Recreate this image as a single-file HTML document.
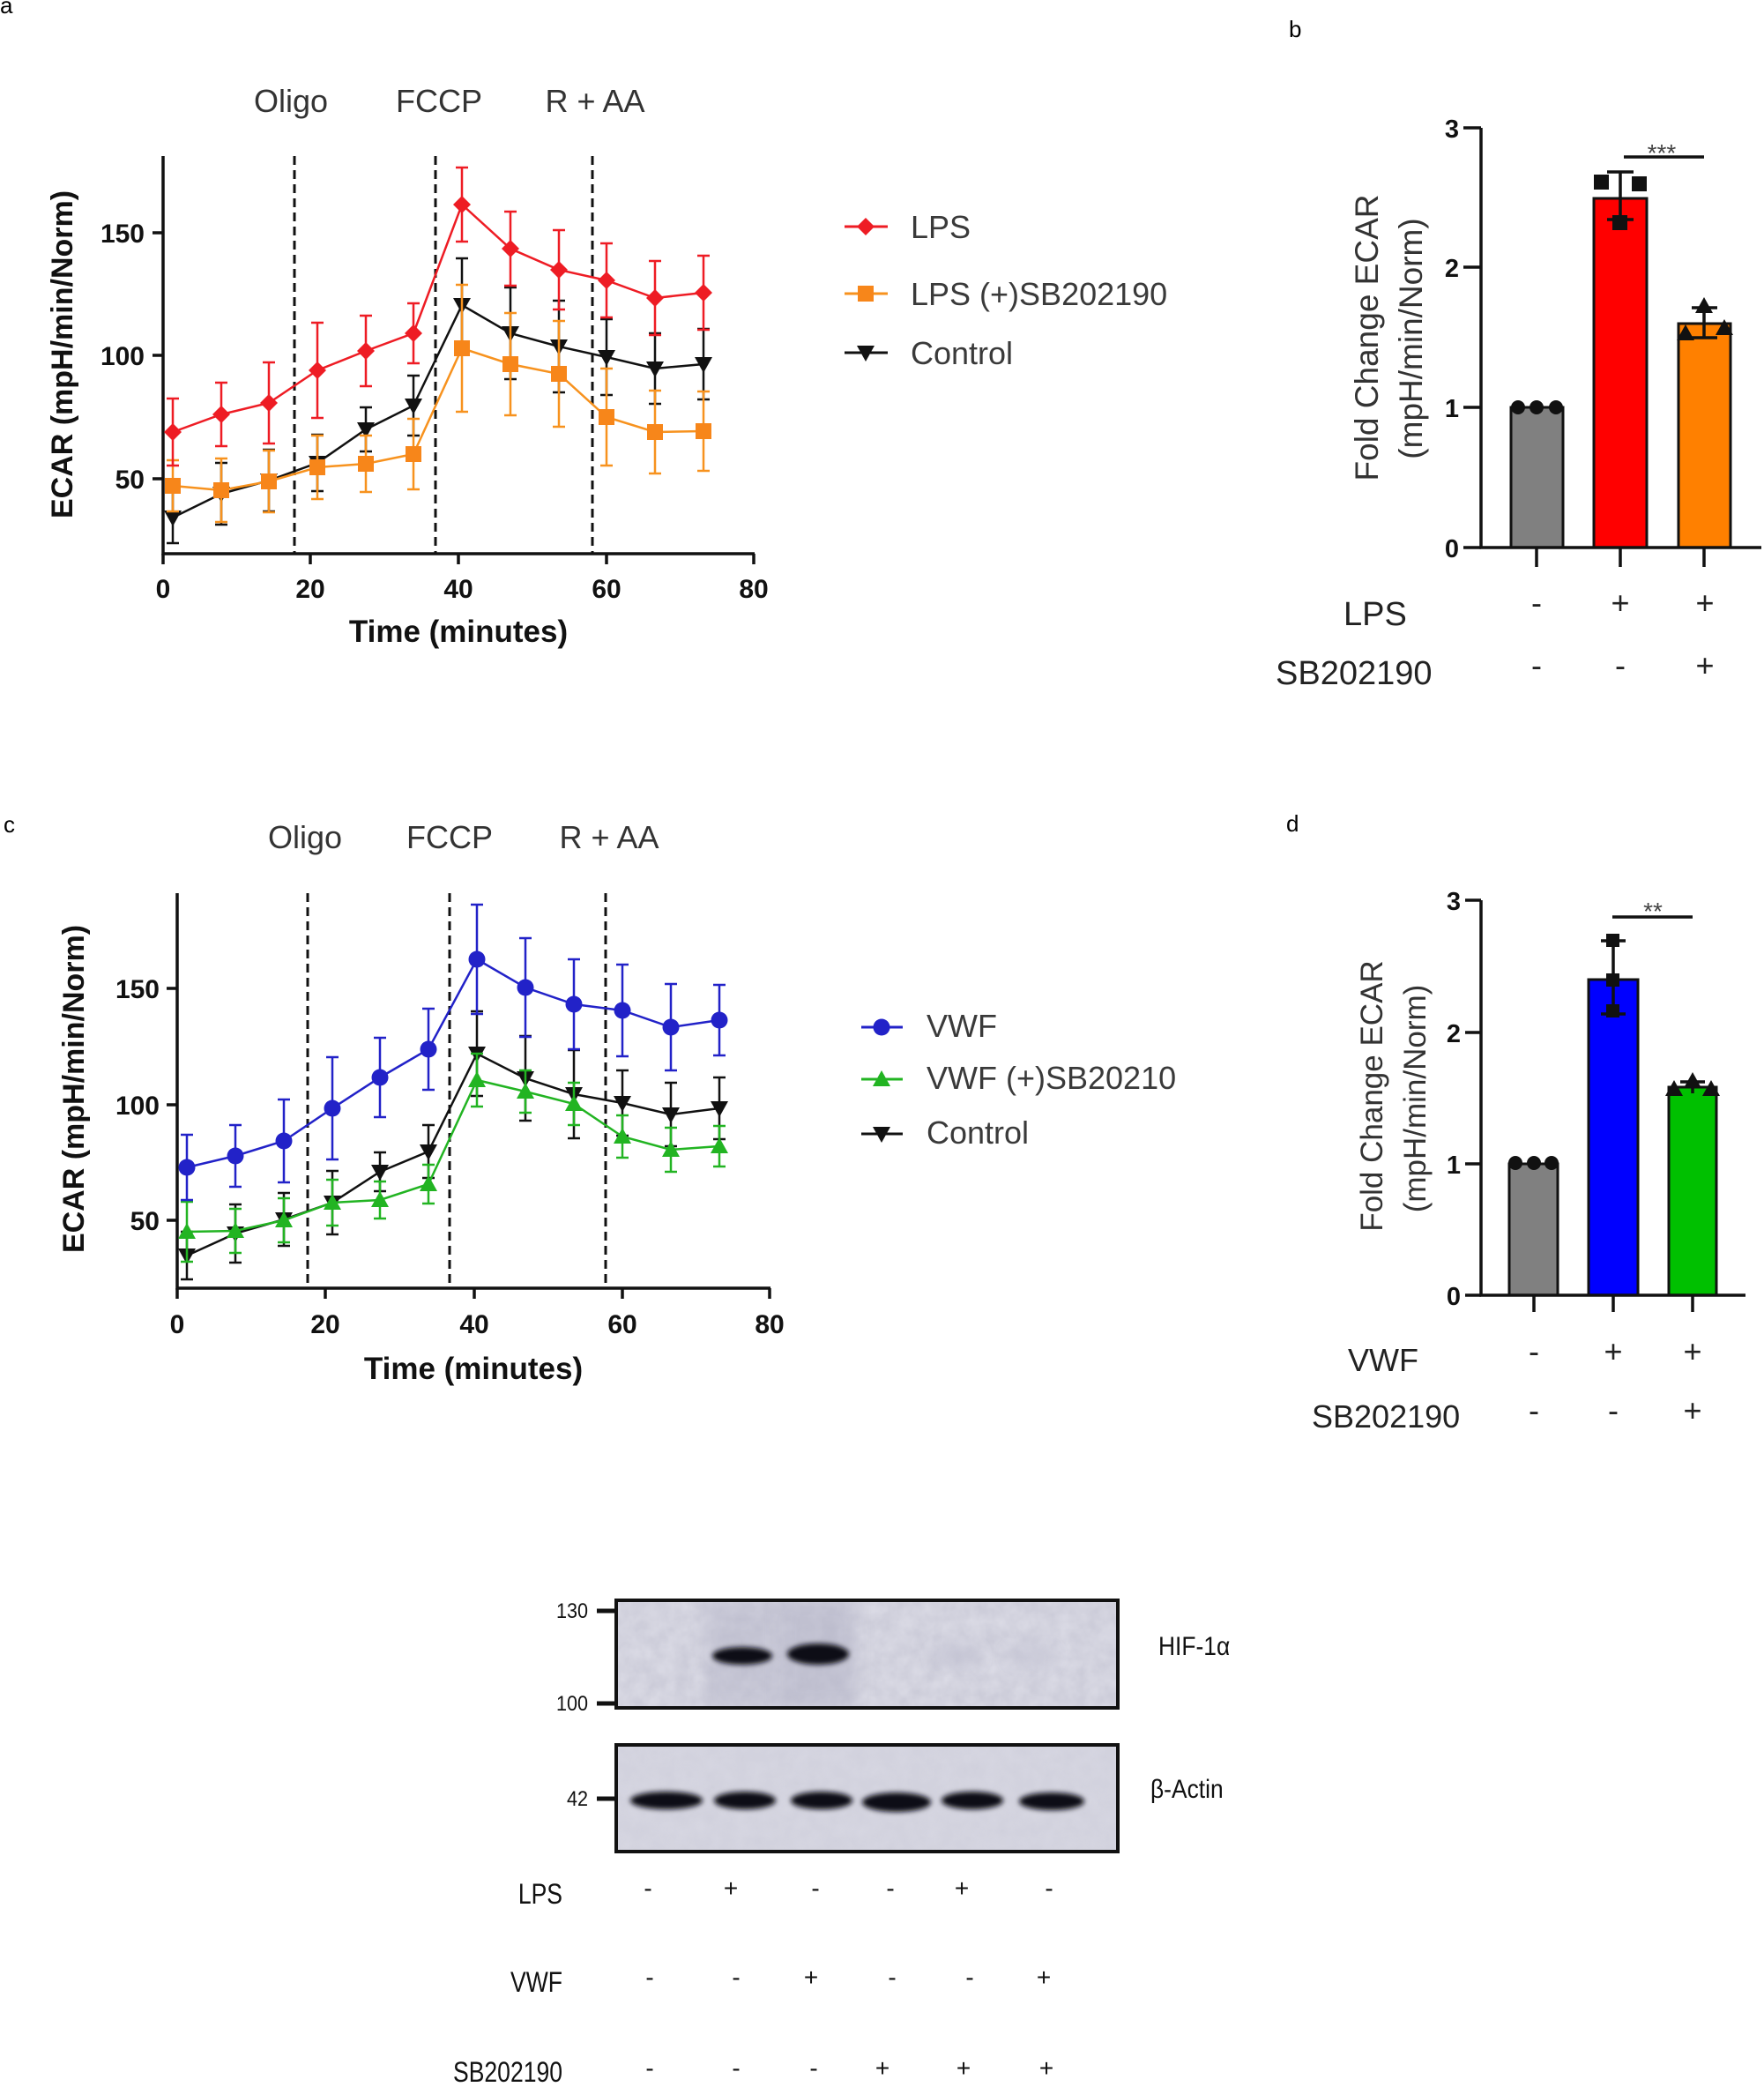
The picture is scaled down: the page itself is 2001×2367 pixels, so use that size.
<!DOCTYPE html>
<html><head><meta charset="utf-8"><style>
html,body{margin:0;padding:0;background:#fff;}
svg{display:block;}
text{font-family:"Liberation Sans",Arial,sans-serif;}
</style></head><body>
<svg width="2001" height="2367" viewBox="0 0 2001 2367" xmlns="http://www.w3.org/2000/svg">
<defs>
<polygon id="dia" points="0,-10 10,0 0,10 -10,0"/>
<rect id="sq" x="-9" y="-9" width="18" height="18"/>
<polygon id="tdn" points="-10,-8 10,-8 0,10"/>
<polygon id="tup" points="-10,8 10,8 0,-10"/>
<circle id="cir" cx="0" cy="0" r="9.5"/>
<filter id="bl3" x="-50%" y="-50%" width="200%" height="200%"><feGaussianBlur stdDeviation="3"/></filter>
<filter id="bl8" x="-50%" y="-50%" width="200%" height="200%"><feGaussianBlur stdDeviation="8"/></filter>
<filter id="noise"><feTurbulence type="fractalNoise" baseFrequency="0.06" numOctaves="3" seed="4"/><feColorMatrix type="matrix" values="0 0 0 0 0.45  0 0 0 0 0.45  0 0 0 0 0.55  0 0 0 0.5 0"/></filter>
<clipPath id="hifclip"><rect x="701" y="1817" width="565" height="118"/></clipPath>
<clipPath id="actclip"><rect x="701" y="1981" width="565" height="117"/></clipPath>
</defs>

<rect width="2001" height="2367" fill="#fff"/>

<!-- panel labels -->
<text x="0" y="15" font-size="26" fill="#000">a</text>
<text x="1462" y="42" font-size="26" fill="#000">b</text>
<text x="4" y="944" font-size="26" fill="#000">c</text>
<text x="1459" y="943" font-size="26" fill="#000">d</text>

<!-- ================= PANEL A ================= -->
<g fill="#333" font-size="36" text-anchor="middle">
<text x="330" y="127">Oligo</text>
<text x="498" y="127">FCCP</text>
<text x="675" y="127">R + AA</text>
</g>
<g stroke="#111" stroke-width="3" stroke-dasharray="10 6">
<line x1="334" y1="177" x2="334" y2="628"/>
<line x1="494" y1="177" x2="494" y2="628"/>
<line x1="672" y1="177" x2="672" y2="628"/>
</g>
<g stroke="#111" stroke-width="3.5" fill="none">
<path d="M185 177V628H856"/>
<path d="M173 264H185M173 403H185M173 543H185"/>
<path d="M185 628V640M352 628V640M520 628V640M688 628V640M855 628V640"/>
</g>
<g font-size="30" font-weight="bold" fill="#111" text-anchor="end">
<text x="164" y="275">150</text>
<text x="164" y="414">100</text>
<text x="164" y="554">50</text>
</g>
<g font-size="30" font-weight="bold" fill="#111" text-anchor="middle">
<text x="185" y="678">0</text>
<text x="352" y="678">20</text>
<text x="520" y="678">40</text>
<text x="688" y="678">60</text>
<text x="855" y="678">80</text>
</g>
<text x="520" y="728" font-size="35" font-weight="bold" fill="#111" text-anchor="middle">Time (minutes)</text>
<text transform="translate(82,402) rotate(-90)" font-size="34" font-weight="bold" fill="#111" text-anchor="middle">ECAR (mpH/min/Norm)</text>

<!-- black a -->
<g stroke="#111" stroke-width="2.5" fill="none">
<polyline points="196,587 251,560 305,545 360,525 415,487 469,460 524,346 579,378 634,393 688,405 743,418 798,413"/>
<path d="M196 558V616M189 558H203M189 616H203M251 525V595M244 525H258M244 595H258M305 510V580M298 510H312M298 580H312M360 493V557M353 493H367M353 557H367M415 462V512M408 462H422M408 512H422M469 426V494M462 426H476M462 494H476M524 293V399M517 293H531M517 399H531M579 326V430M572 326H586M572 430H586M634 341V445M627 341H641M627 445H641M688 362V448M681 362H695M681 448H695M743 378V458M736 378H750M736 458H750M798 373V453M791 373H805M791 453H805"/>
</g>
<g fill="#111">
<use href="#tdn" x="196" y="587"/><use href="#tdn" x="251" y="560"/><use href="#tdn" x="305" y="545"/><use href="#tdn" x="360" y="525"/><use href="#tdn" x="415" y="487"/><use href="#tdn" x="469" y="460"/><use href="#tdn" x="524" y="346"/><use href="#tdn" x="579" y="378"/><use href="#tdn" x="634" y="393"/><use href="#tdn" x="688" y="405"/><use href="#tdn" x="743" y="418"/><use href="#tdn" x="798" y="413"/>
</g>
<!-- orange a -->
<g stroke="#f7921e" stroke-width="2.5" fill="none">
<polyline points="196,551 251,556 305,546 360,530 415,526 469,515 524,395 579,413 634,424 688,473 743,490 798,489"/>
<path d="M196 522V580M189 522H203M189 580H203M251 520V592M244 520H258M244 592H258M305 511V581M298 511H312M298 581H312M360 494V566M353 494H367M353 566H367M415 494V558M408 494H422M408 558H422M469 475V555M462 475H476M462 555H476M524 323V467M517 323H531M517 467H531M579 355V471M572 355H586M572 471H586M634 364V484M627 364H641M627 484H641M688 418V528M681 418H695M681 528H695M743 443V537M736 443H750M736 537H750M798 444V534M791 444H805M791 534H805"/>
</g>
<g fill="#f7861a">
<use href="#sq" x="196" y="551"/><use href="#sq" x="251" y="556"/><use href="#sq" x="305" y="546"/><use href="#sq" x="360" y="530"/><use href="#sq" x="415" y="526"/><use href="#sq" x="469" y="515"/><use href="#sq" x="524" y="395"/><use href="#sq" x="579" y="413"/><use href="#sq" x="634" y="424"/><use href="#sq" x="688" y="473"/><use href="#sq" x="743" y="490"/><use href="#sq" x="798" y="489"/>
</g>
<!-- red a -->
<g stroke="#ee1c24" stroke-width="2.5" fill="none">
<polyline points="196,490 251,470 305,457 360,420 415,398 469,378 524,232 579,282 634,306 688,318 743,338 798,332"/>
<path d="M196 452V528M189 452H203M189 528H203M251 434V506M244 434H258M244 506H258M305 411V503M298 411H312M298 503H312M360 366V474M353 366H367M353 474H367M415 358V438M408 358H422M408 438H422M469 344V412M462 344H476M462 412H476M524 190V274M517 190H531M517 274H531M579 240V324M572 240H586M572 324H586M634 261V351M627 261H641M627 351H641M688 276V360M681 276H695M681 360H695M743 296V380M736 296H750M736 380H750M798 290V374M791 290H805M791 374H805"/>
</g>
<g fill="#ee1c24">
<use href="#dia" x="196" y="490"/><use href="#dia" x="251" y="470"/><use href="#dia" x="305" y="457"/><use href="#dia" x="360" y="420"/><use href="#dia" x="415" y="398"/><use href="#dia" x="469" y="378"/><use href="#dia" x="524" y="232"/><use href="#dia" x="579" y="282"/><use href="#dia" x="634" y="306"/><use href="#dia" x="688" y="318"/><use href="#dia" x="743" y="338"/><use href="#dia" x="798" y="332"/>
</g>
<!-- legend a -->
<g stroke-width="3">
<line x1="958" y1="257" x2="1007" y2="257" stroke="#ee1c24"/>
<line x1="958" y1="333" x2="1007" y2="333" stroke="#f7921e"/>
<line x1="958" y1="400" x2="1007" y2="400" stroke="#111"/>
</g>
<use href="#dia" x="982" y="257" fill="#ee1c24"/>
<use href="#sq" x="982" y="333" fill="#f7861a"/>
<use href="#tdn" x="982" y="400" fill="#111"/>
<g font-size="36" fill="#3a3a3a">
<text x="1033" y="270">LPS</text>
<text x="1033" y="346">LPS (+)SB202190</text>
<text x="1033" y="413">Control</text>
</g>

<!-- ================= PANEL B ================= -->
<g stroke="#111" stroke-width="3">
<rect x="1714" y="462" width="59" height="159" fill="#808080"/>
<rect x="1808" y="225" width="60" height="396" fill="#ff0000"/>
<rect x="1904" y="367" width="59" height="254" fill="#ff8000"/>
</g>
<g stroke="#111" stroke-width="3.5" fill="none">
<path d="M1680 145V621H1998"/>
<path d="M1660 145H1680M1660 303H1680M1660 462H1680M1660 621H1680"/>
<path d="M1743 621V643M1838 621V643M1933 621V643"/>
<path d="M1838 195V249M1823 195H1853M1823 249H1853"/>
<path d="M1933 349V383M1919 349H1948M1919 383H1948"/>
<path d="M1842 178H1933"/>
</g>
<g fill="#111">
<circle cx="1722" cy="462" r="8"/><circle cx="1743" cy="462" r="8"/><circle cx="1765" cy="462" r="8"/>
<rect x="1808" y="198" width="17" height="17"/><rect x="1851" y="200" width="17" height="17"/><rect x="1829" y="244" width="17" height="17"/>
<use href="#tup" x="1933" y="347"/><use href="#tup" x="1912" y="378"/><use href="#tup" x="1956" y="372"/>
</g>
<text x="1885" y="183" font-size="28" fill="#444" text-anchor="middle">***</text>
<g font-size="29" font-weight="bold" fill="#111" text-anchor="end">
<text x="1655" y="156">3</text>
<text x="1655" y="314">2</text>
<text x="1655" y="473">1</text>
<text x="1655" y="632">0</text>
</g>
<text transform="translate(1563,383) rotate(-90)" font-size="37" fill="#333" text-anchor="middle">Fold Change ECAR</text>
<text transform="translate(1613,384) rotate(-90)" font-size="37" fill="#333" text-anchor="middle">(mpH/min/Norm)</text>
<g font-size="38" fill="#222">
<text x="1524" y="709">LPS</text>
<text x="1447" y="776">SB202190</text>
</g>
<g font-size="36" fill="#222" text-anchor="middle">
<text x="1743" y="696">-</text><text x="1838" y="696">+</text><text x="1934" y="696">+</text>
<text x="1743" y="767">-</text><text x="1838" y="767">-</text><text x="1934" y="767">+</text>
</g>

<!-- ================= PANEL C ================= -->
<g fill="#333" font-size="36" text-anchor="middle">
<text x="346" y="962">Oligo</text>
<text x="510" y="962">FCCP</text>
<text x="691" y="962">R + AA</text>
</g>
<g stroke="#111" stroke-width="3" stroke-dasharray="10 6">
<line x1="349" y1="1013" x2="349" y2="1461"/>
<line x1="510" y1="1013" x2="510" y2="1461"/>
<line x1="687" y1="1013" x2="687" y2="1461"/>
</g>
<g stroke="#111" stroke-width="3.5" fill="none">
<path d="M201 1013V1461H874"/>
<path d="M189 1121H201M189 1253H201M189 1384H201"/>
<path d="M201 1461V1473M369 1461V1473M538 1461V1473M706 1461V1473M873 1461V1473"/>
</g>
<g font-size="30" font-weight="bold" fill="#111" text-anchor="end">
<text x="181" y="1132">150</text>
<text x="181" y="1264">100</text>
<text x="181" y="1395">50</text>
</g>
<g font-size="30" font-weight="bold" fill="#111" text-anchor="middle">
<text x="201" y="1512">0</text>
<text x="369" y="1512">20</text>
<text x="538" y="1512">40</text>
<text x="706" y="1512">60</text>
<text x="873" y="1512">80</text>
</g>
<text x="537" y="1564" font-size="35" font-weight="bold" fill="#111" text-anchor="middle">Time (minutes)</text>
<text transform="translate(95,1235) rotate(-90)" font-size="34" font-weight="bold" fill="#111" text-anchor="middle">ECAR (mpH/min/Norm)</text>

<!-- black c -->
<g stroke="#111" stroke-width="2.5" fill="none">
<polyline points="212,1424 267,1399 322,1383 377,1364 431,1329 486,1306 541,1195 596,1223 651,1241 706,1251 761,1264 816,1257"/>
<path d="M212 1397V1451M205 1397H219M205 1451H219M267 1366V1432M260 1366H274M260 1432H274M322 1353V1413M315 1353H329M315 1413H329M377 1328V1400M370 1328H384M370 1400H384M431 1307V1351M424 1307H438M424 1351H438M486 1276V1336M479 1276H493M479 1336H493M541 1147V1243M534 1147H548M534 1243H548M596 1175V1271M589 1175H603M589 1271H603M651 1191V1291M644 1191H658M644 1291H658M706 1214V1288M699 1214H713M699 1288H713M761 1228V1300M754 1228H768M754 1300H768M816 1222V1292M809 1222H823M809 1292H823"/>
</g>
<g fill="#111">
<use href="#tdn" x="212" y="1424"/><use href="#tdn" x="267" y="1399"/><use href="#tdn" x="322" y="1383"/><use href="#tdn" x="377" y="1364"/><use href="#tdn" x="431" y="1329"/><use href="#tdn" x="486" y="1306"/><use href="#tdn" x="541" y="1195"/><use href="#tdn" x="596" y="1223"/><use href="#tdn" x="651" y="1241"/><use href="#tdn" x="706" y="1251"/><use href="#tdn" x="761" y="1264"/><use href="#tdn" x="816" y="1257"/>
</g>
<!-- green c -->
<g stroke="#22b422" stroke-width="2.5" fill="none">
<polyline points="212,1397 267,1396 322,1384 377,1364 431,1361 486,1343 541,1225 596,1238 651,1252 706,1289 761,1304 816,1300"/>
<path d="M212 1363V1431M205 1363H219M205 1431H219M267 1371V1421M260 1371H274M260 1421H274M322 1359V1409M315 1359H329M315 1409H329M377 1338V1390M370 1338H384M370 1390H384M431 1340V1382M424 1340H438M424 1382H438M486 1321V1365M479 1321H493M479 1365H493M541 1195V1255M534 1195H548M534 1255H548M596 1214V1262M589 1214H603M589 1262H603M651 1228V1276M644 1228H658M644 1276H658M706 1265V1313M699 1265H713M699 1313H713M761 1279V1329M754 1279H768M754 1329H768M816 1277V1323M809 1277H823M809 1323H823"/>
</g>
<g fill="#22b422">
<use href="#tup" x="212" y="1397"/><use href="#tup" x="267" y="1396"/><use href="#tup" x="322" y="1384"/><use href="#tup" x="377" y="1364"/><use href="#tup" x="431" y="1361"/><use href="#tup" x="486" y="1343"/><use href="#tup" x="541" y="1225"/><use href="#tup" x="596" y="1238"/><use href="#tup" x="651" y="1252"/><use href="#tup" x="706" y="1289"/><use href="#tup" x="761" y="1304"/><use href="#tup" x="816" y="1300"/>
</g>
<!-- blue c -->
<g stroke="#2222c8" stroke-width="2.5" fill="none">
<polyline points="212,1324 267,1311 322,1294 377,1257 431,1222 486,1190 541,1088 596,1120 651,1139 706,1146 761,1165 816,1157"/>
<path d="M212 1287V1361M205 1287H219M205 1361H219M267 1276V1346M260 1276H274M260 1346H274M322 1247V1341M315 1247H329M315 1341H329M377 1199V1315M370 1199H384M370 1315H384M431 1177V1267M424 1177H438M424 1267H438M486 1144V1236M479 1144H493M479 1236H493M541 1026V1150M534 1026H548M534 1150H548M596 1064V1176M589 1064H603M589 1176H603M651 1088V1190M644 1088H658M644 1190H658M706 1094V1198M699 1094H713M699 1198H713M761 1116V1214M754 1116H768M754 1214H768M816 1117V1197M809 1117H823M809 1197H823"/>
</g>
<g fill="#2222c8">
<use href="#cir" x="212" y="1324"/><use href="#cir" x="267" y="1311"/><use href="#cir" x="322" y="1294"/><use href="#cir" x="377" y="1257"/><use href="#cir" x="431" y="1222"/><use href="#cir" x="486" y="1190"/><use href="#cir" x="541" y="1088"/><use href="#cir" x="596" y="1120"/><use href="#cir" x="651" y="1139"/><use href="#cir" x="706" y="1146"/><use href="#cir" x="761" y="1165"/><use href="#cir" x="816" y="1157"/>
</g>
<!-- legend c -->
<g stroke-width="3">
<line x1="977" y1="1165" x2="1024" y2="1165" stroke="#2222c8"/>
<line x1="977" y1="1224" x2="1024" y2="1224" stroke="#22b422"/>
<line x1="977" y1="1286" x2="1024" y2="1286" stroke="#111"/>
</g>
<use href="#cir" x="1000" y="1165" fill="#2222c8"/>
<use href="#tup" x="1000" y="1224" fill="#22b422"/>
<use href="#tdn" x="1000" y="1286" fill="#111"/>
<g font-size="36" fill="#3a3a3a">
<text x="1051" y="1176">VWF</text>
<text x="1051" y="1235">VWF (+)SB20210</text>
<text x="1051" y="1297">Control</text>
</g>

<!-- ================= PANEL D ================= -->
<g stroke="#111" stroke-width="3">
<rect x="1712" y="1320" width="55" height="149" fill="#808080"/>
<rect x="1802" y="1111" width="56" height="358" fill="#0000ff"/>
<rect x="1893" y="1233" width="54" height="236" fill="#00c000"/>
</g>
<g stroke="#111" stroke-width="3.5" fill="none">
<path d="M1680 1021V1469H1980"/>
<path d="M1662 1021H1680M1662 1171H1680M1662 1320H1680M1662 1469H1680"/>
<path d="M1740 1469V1488M1830 1469V1488M1920 1469V1488"/>
<path d="M1830 1067V1150M1816 1067H1844M1816 1150H1844"/>
<path d="M1920 1227V1240M1906 1227H1934"/>
<path d="M1829 1040H1920"/>
</g>
<g fill="#111">
<circle cx="1719" cy="1319" r="8"/><circle cx="1740" cy="1319" r="8"/><circle cx="1760" cy="1319" r="8"/>
<rect x="1822" y="1059" width="15" height="15"/><rect x="1822" y="1104" width="15" height="15"/><rect x="1822" y="1139" width="15" height="15"/>
<use href="#tup" x="1899" y="1235"/><use href="#tup" x="1920" y="1226"/><use href="#tup" x="1941" y="1235"/>
</g>
<text x="1875" y="1043" font-size="28" fill="#444" text-anchor="middle">**</text>
<g font-size="29" font-weight="bold" fill="#111" text-anchor="end">
<text x="1657" y="1032">3</text>
<text x="1657" y="1182">2</text>
<text x="1657" y="1331">1</text>
<text x="1657" y="1480">0</text>
</g>
<text transform="translate(1568,1243) rotate(-90)" font-size="35" fill="#333" text-anchor="middle">Fold Change ECAR</text>
<text transform="translate(1617,1246) rotate(-90)" font-size="35" fill="#333" text-anchor="middle">(mpH/min/Norm)</text>
<g font-size="36" fill="#222">
<text x="1529" y="1555">VWF</text>
<text x="1488" y="1619">SB202190</text>
</g>
<g font-size="36" fill="#222" text-anchor="middle">
<text x="1740" y="1545">-</text><text x="1830" y="1545">+</text><text x="1920" y="1545">+</text>
<text x="1740" y="1612">-</text><text x="1830" y="1612">-</text><text x="1920" y="1612">+</text>
</g>

<!-- ================= WESTERN BLOT ================= -->
<!-- HIF -->
<rect x="699" y="1815" width="569" height="122" fill="#dddde7"/>
<g clip-path="url(#hifclip)">
<rect x="699" y="1815" width="569" height="122" filter="url(#noise)"/>
<rect x="800" y="1815" width="85" height="122" fill="#b0b0c4" opacity="0.4" filter="url(#bl8)"/>
<rect x="885" y="1815" width="85" height="122" fill="#b0b0c4" opacity="0.5" filter="url(#bl8)"/>
<ellipse cx="1085" cy="1878" rx="26" ry="12" fill="#c0c0d0" opacity="0.7" filter="url(#bl8)"/>
<ellipse cx="1170" cy="1878" rx="26" ry="12" fill="#c4c4d4" opacity="0.6" filter="url(#bl8)"/>
<ellipse cx="842" cy="1878" rx="34" ry="10" fill="#0c0c14" filter="url(#bl3)"/>
<ellipse cx="928" cy="1876" rx="35" ry="12" fill="#0a0a12" filter="url(#bl3)"/>
</g>
<rect x="699" y="1815" width="569" height="122" fill="none" stroke="#111" stroke-width="4"/>
<!-- actin -->
<rect x="699" y="1979" width="569" height="121" fill="#d7d7e2"/>
<g clip-path="url(#actclip)">
<rect x="699" y="1979" width="569" height="121" filter="url(#noise)" opacity="0.4"/>
<g fill="#0c0c12" filter="url(#bl3)">
<ellipse cx="756" cy="2042" rx="41" ry="10"/>
<ellipse cx="845" cy="2042" rx="35" ry="10"/>
<ellipse cx="932" cy="2042" rx="35" ry="10"/>
<ellipse cx="1017" cy="2044" rx="39" ry="11"/>
<ellipse cx="1103" cy="2042" rx="35" ry="10"/>
<ellipse cx="1193" cy="2043" rx="37" ry="10"/>
</g>
</g>
<rect x="699" y="1979" width="569" height="121" fill="none" stroke="#111" stroke-width="4"/>
<!-- markers -->
<g stroke="#111" stroke-width="5">
<line x1="677" y1="1827" x2="699" y2="1827"/>
<line x1="677" y1="1932" x2="699" y2="1932"/>
<line x1="677" y1="2040" x2="699" y2="2040"/>
</g>
<g font-size="24" fill="#111" text-anchor="end">
<text transform="translate(667,1835) scale(0.9,1)">130</text>
<text transform="translate(667,1940) scale(0.9,1)">100</text>
<text transform="translate(667,2048) scale(0.9,1)">42</text>
</g>
<g font-size="30" fill="#111">
<text transform="translate(1314,1877) scale(0.88,1)">HIF-1α</text>
<text transform="translate(1305,2039) scale(0.88,1)">β-Actin</text>
</g>
<!-- row labels -->
<g font-size="32" fill="#111" text-anchor="end">
<text transform="translate(638,2159) scale(0.83,1)">LPS</text>
<text transform="translate(638,2259) scale(0.83,1)">VWF</text>
<text transform="translate(638,2361) scale(0.83,1)">SB202190</text>
</g>
<g font-size="28" fill="#111" text-anchor="middle">
<text x="735" y="2151">-</text><text x="829" y="2151">+</text><text x="925" y="2151">-</text><text x="1010" y="2151">-</text><text x="1091" y="2151">+</text><text x="1190" y="2151">-</text>
<text x="737" y="2252">-</text><text x="835" y="2252">-</text><text x="920" y="2252">+</text><text x="1012" y="2252">-</text><text x="1100" y="2252">-</text><text x="1184" y="2252">+</text>
<text x="737" y="2355">-</text><text x="835" y="2355">-</text><text x="923" y="2355">-</text><text x="1001" y="2355">+</text><text x="1093" y="2355">+</text><text x="1187" y="2355">+</text>
</g>
</svg>
</body></html>
